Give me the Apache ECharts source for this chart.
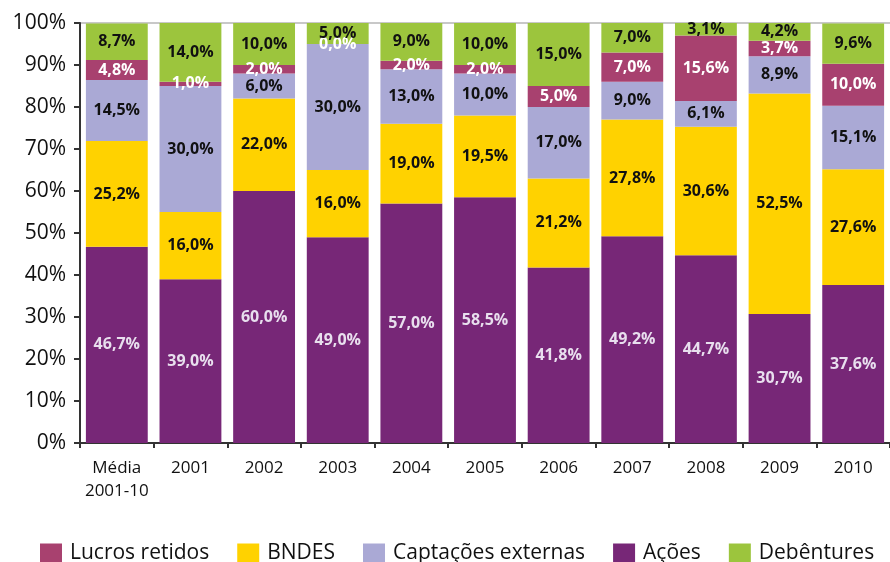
<!DOCTYPE html>
<html>
<head>
<meta charset="utf-8">
<script src="https://cdn.jsdelivr.net/npm/echarts@6/dist/echarts.min.js"></script>
<style>html,body{margin:0;padding:0;background:#fff}#c{width:890px;height:562px}</style>
</head>
<body>
<div id="c"></div>
<script>
var categories = ['Média\n2001-10','2001','2002','2003','2004','2005','2006','2007','2008','2009','2010'];
var acoes      = [46.7, 39.0, 60.0, 49.0, 57.0, 58.5, 41.8, 49.2, 44.7, 30.7, 37.6];
var bndes      = [25.2, 16.0, 22.0, 16.0, 19.0, 19.5, 21.2, 27.8, 30.6, 52.5, 27.6];
var captacoes  = [14.5, 30.0, 6.0, 30.0, 13.0, 10.0, 17.0, 9.0, 6.1, 8.9, 15.1];
var lucros     = [4.8, 1.0, 2.0, 0.0, 2.0, 2.0, 5.0, 7.0, 15.6, 3.7, 10.0];
var debentures = [8.7, 14.0, 10.0, 5.0, 9.0, 10.0, 15.0, 7.0, 3.1, 4.2, 9.6];
var yTicks = [0,10,20,30,40,50,60,70,80,90,100];

var FONT = '"Open Sans", sans-serif';
function fmt(p){ return p.value.toFixed(1).replace('.', ',') + '%'; }
function series(name, data, color, labelColor){
  return {
    name: name, type: 'bar', stack: 'total', data: data,
    barCategoryGap: '16%',
    itemStyle: {color: color},
    label: {show: true, position: 'inside', formatter: fmt, color: labelColor,
            fontFamily: FONT, fontWeight: 'bold', fontSize: 16}
  };
}
var splitColors = yTicks.map(function(v){ return v === 100 ? '#c8c8c8' : 'rgba(0,0,0,0)'; });

var chart = echarts.init(document.getElementById('c'));
chart.setOption({
  animation: false,
  textStyle: {fontFamily: FONT},
  grid: {left: 80, right: -7, top: 23, bottom: 119, containLabel: false},
  legend: {
    data: ['Lucros retidos','BNDES','Captações externas','Ações','Debêntures'],
    left: 35, top: 538, itemWidth: 22, itemHeight: 20, itemGap: 28,
    icon: 'rect',
    textStyle: {fontSize: 21, color: '#111', fontFamily: FONT, padding: [0,0,0,3]}
  },
  xAxis: {
    type: 'category', data: categories,
    axisLine: {lineStyle: {color: '#333', width: 2}},
    axisTick: {show: true, interval: 0, length: 5, lineStyle: {color: '#333', width: 2}},
    axisLabel: {interval: 0, fontSize: 17, color: '#111', margin: 14, lineHeight: 23, fontFamily: FONT}
  },
  yAxis: {
    type: 'value', min: 0, max: 100, interval: 10,
    axisLine: {show: true, lineStyle: {color: '#333', width: 2}},
    axisTick: {show: true, length: 6, lineStyle: {color: '#333', width: 2}},
    axisLabel: {formatter: function(v){ return v + '%'; }, fontSize: 21, color: '#111', margin: 14, fontFamily: FONT},
    splitLine: {show: true, lineStyle: {color: splitColors, width: 2}}
  },
  series: [
    series('Ações', acoes, '#772777', '#e8dfee'),
    series('BNDES', bndes, '#ffd200', '#111'),
    series('Captações externas', captacoes, '#aaa9d5', '#111'),
    series('Lucros retidos', lucros, '#a8416f', '#ffffff'),
    series('Debêntures', debentures, '#9cc53d', '#111')
  ]
});
</script>
</body>
</html>
